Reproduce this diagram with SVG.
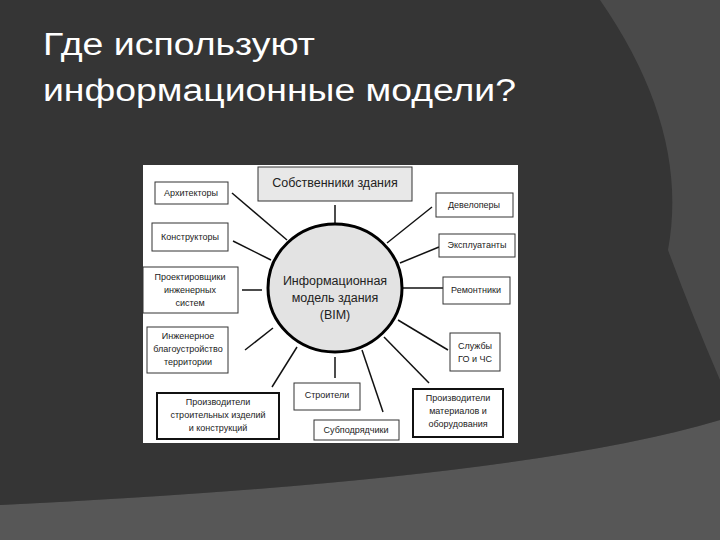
<svg xmlns="http://www.w3.org/2000/svg" width="720" height="540" viewBox="0 0 720 540">
<style>
.b{fill:#fff;stroke:#333;stroke-width:1}
.k{fill:#fff;stroke:#111;stroke-width:2}
.t{font-family:"Liberation Sans",Arial,sans-serif;font-size:9px;fill:#222;text-anchor:middle}
.L{font-size:12.5px}
.c line{stroke:#111;stroke-width:1.5}
.h{font-family:"Liberation Sans",Arial,sans-serif;font-size:31px;fill:#fff}
</style>
<rect width="720" height="540" fill="#575757"/>
<path d="M0 0H720V420Q520 480 0 505Z" fill="#4a4a4a"/>
<path d="M0 0H600Q690 130 668 250Q690 310 720 380V420Q520 480 0 505Z" fill="#353535"/>
<text class="h" x="43" y="55" textLength="272" lengthAdjust="spacingAndGlyphs">Где используют</text>
<text class="h" x="43" y="101" textLength="473" lengthAdjust="spacingAndGlyphs">информационные модели?</text>
<rect x="143" y="165" width="375" height="278" fill="#fff"/>
<g class="c">
<line x1="335" y1="205" x2="335" y2="223"/>
<line x1="232" y1="193" x2="287" y2="240"/>
<line x1="233" y1="241" x2="271" y2="260"/>
<line x1="242" y1="290" x2="262" y2="290" stroke-width="2.5"/>
<line x1="245" y1="350" x2="273" y2="328"/>
<line x1="272" y1="387" x2="297" y2="347"/>
<line x1="335" y1="357" x2="335" y2="378"/>
<line x1="383" y1="412" x2="362" y2="350"/>
<line x1="429" y1="383" x2="384" y2="337"/>
<line x1="448" y1="350" x2="398" y2="320"/>
<line x1="403" y1="288" x2="443" y2="288" stroke-width="2.5"/>
<line x1="400" y1="263" x2="439" y2="247"/>
<line x1="387" y1="243" x2="432" y2="207"/>
</g>
<g id="center"><ellipse cx="335" cy="288" rx="67" ry="64" fill="#e3e3e3" stroke="#000" stroke-width="3"/>
<text class="t L" x="335" y="285">Информационная</text><text class="t L" x="335" y="302">модель здания</text><text class="t L" x="335" y="319">(BIM)</text></g>
<g id="owners"><rect x="258" y="167" width="154" height="34" fill="#e8e8e8" stroke="#333"/><text class="t L" x="335" y="187">Собственники здания</text></g>
<g id="arch"><rect class="b" x="155" y="182" width="73" height="22"/><text class="t" x="191" y="196">Архитекторы</text></g>
<g id="konstr"><rect class="b" x="152" y="223" width="76" height="28"/><text class="t" x="190" y="240">Конструкторы</text></g>
<g id="proekt"><rect class="b" x="143" y="267" width="95" height="46"/><text class="t" x="190" y="280">Проектировщики</text><text class="t" x="190" y="293">инженерных</text><text class="t" x="190" y="306">систем</text></g>
<g id="inzh"><rect class="b" x="147" y="327" width="81" height="46"/><text class="t" x="188" y="339">Инженерное</text><text class="t" x="188" y="352">благоустройство</text><text class="t" x="188" y="365">территории</text></g>
<g id="proizv1"><rect class="k" x="157" y="393" width="122" height="46"/><text class="t" x="218" y="405">Производители</text><text class="t" x="218" y="418">строительных изделий</text><text class="t" x="218" y="431">и конструкций</text></g>
<g id="stroit"><rect class="b" x="294" y="383" width="66" height="27"/><text class="t" x="327" y="398">Строители</text></g>
<g id="subpod"><rect class="b" x="314" y="420" width="85" height="20"/><text class="t" x="356" y="433">Субподрядчики</text></g>
<g id="proizv2"><rect class="k" x="413" y="389" width="90" height="48"/><text class="t" x="458" y="401">Производители</text><text class="t" x="458" y="414">материалов и</text><text class="t" x="458" y="427">оборудования</text></g>
<g id="go"><rect class="b" x="450" y="333" width="50" height="38"/><text class="t" x="475" y="349">Службы</text><text class="t" x="475" y="362">ГО и ЧС</text></g>
<g id="remont"><rect class="b" x="443" y="277" width="67" height="27"/><text class="t" x="476" y="293">Ремонтники</text></g>
<g id="ekspl"><rect class="b" x="439" y="234" width="76" height="23"/><text class="t" x="477" y="248">Эксплуатанты</text></g>
<g id="devel"><rect class="b" x="436" y="193" width="77" height="24"/><text class="t" x="474" y="208">Девелоперы</text></g>
</svg>
